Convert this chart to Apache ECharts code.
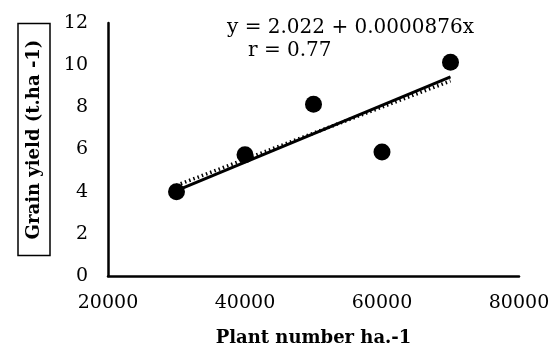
<!DOCTYPE html>
<html>
<head>
<meta charset="utf-8">
<script src="https://cdn.jsdelivr.net/npm/echarts@6/dist/echarts.min.js"></script>
<style>
  html, body { margin: 0; padding: 0; background: #fff; }
  #chart { width: 556px; height: 347px; }
</style>
</head>
<body>
<div id="chart"></div>
<script>
// observed points
const plantNumber = [30000, 40000, 50000, 60000, 70000]
const grainYield = [4.0, 5.75, 8.15, 5.88, 10.14]

// fitted lines as drawn (end points)
const solidFitX = [30000, 70000]
const solidFitY = [4.05, 9.45]
const dottedFitX = [30000, 70000]
const dottedFitY = [4.3, 9.25]

const equationText = 'y = 2.022 + 0.0000876x'
const rText = 'r = 0.77'
const yTitle = 'Grain yield (t.ha -1)'

const serif = 'DejaVu Serif'

const zip = (xs, ys) => xs.map((x, i) => [x, ys[i]])

const myChart = echarts.init(document.getElementById('chart'))
const option = {
    animation: false,
    grid: { left: 108, right: 37, top: 23, bottom: 71, outerBoundsMode: 'none' },
    xAxis: {
        type: 'value',
        min: 20000,
        max: 80000,
        interval: 20000,
        name: 'Plant number ha.-1',
        nameLocation: 'middle',
        nameGap: 53,
        nameTextStyle: { fontFamily: serif, fontWeight: 'bold', fontSize: 18, color: '#000' },
        axisLine: { show: true, lineStyle: { color: '#000', width: 2.5 } },
        axisTick: { show: false },
        splitLine: { show: false },
        axisLabel: {
            fontFamily: serif, fontSize: 19, color: '#000', margin: 18,
            formatter: v => String(v)
        }
    },
    yAxis: {
        type: 'value',
        min: 0,
        max: 12,
        interval: 2,
        axisLine: { show: true, lineStyle: { color: '#000', width: 2.5 } },
        axisTick: { show: false },
        splitLine: { show: false },
        axisLabel: { fontFamily: serif, fontSize: 19, color: '#000', margin: 20 }
    },
    graphic: [
        {
            // boxed y axis title, drawn here so it can sit above the axis middle
            type: 'text', x: 34, y: 139.5, rotation: Math.PI / 2,
            style: {
                text: yTitle, font: 'bold 18px "DejaVu Serif"', fill: '#000',
                align: 'center', verticalAlign: 'middle',
                borderColor: '#000', borderWidth: 1.5, padding: [7, 16, 7, 16]
            }
        },
        {
            type: 'text', left: 227, top: 18,
            style: { text: equationText, font: '20px "DejaVu Serif"', fill: '#000' }
        },
        {
            type: 'text', left: 248, top: 41,
            style: { text: rText, font: '20px "DejaVu Serif"', fill: '#000' }
        }
    ],
    series: [
        {
            type: 'line',
            data: zip(dottedFitX, dottedFitY),
            symbol: 'none',
            lineStyle: { color: '#000', width: 3.5, type: [1.5, 3] },
            z: 2
        },
        {
            type: 'line',
            data: zip(solidFitX, solidFitY),
            symbol: 'none',
            lineStyle: { color: '#000', width: 3 },
            z: 3
        },
        {
            type: 'scatter',
            data: zip(plantNumber, grainYield),
            symbolSize: 17,
            itemStyle: { color: '#000', opacity: 1 },
            z: 4
        }
    ]
}
myChart.setOption(option)
</script>
</body>
</html>
